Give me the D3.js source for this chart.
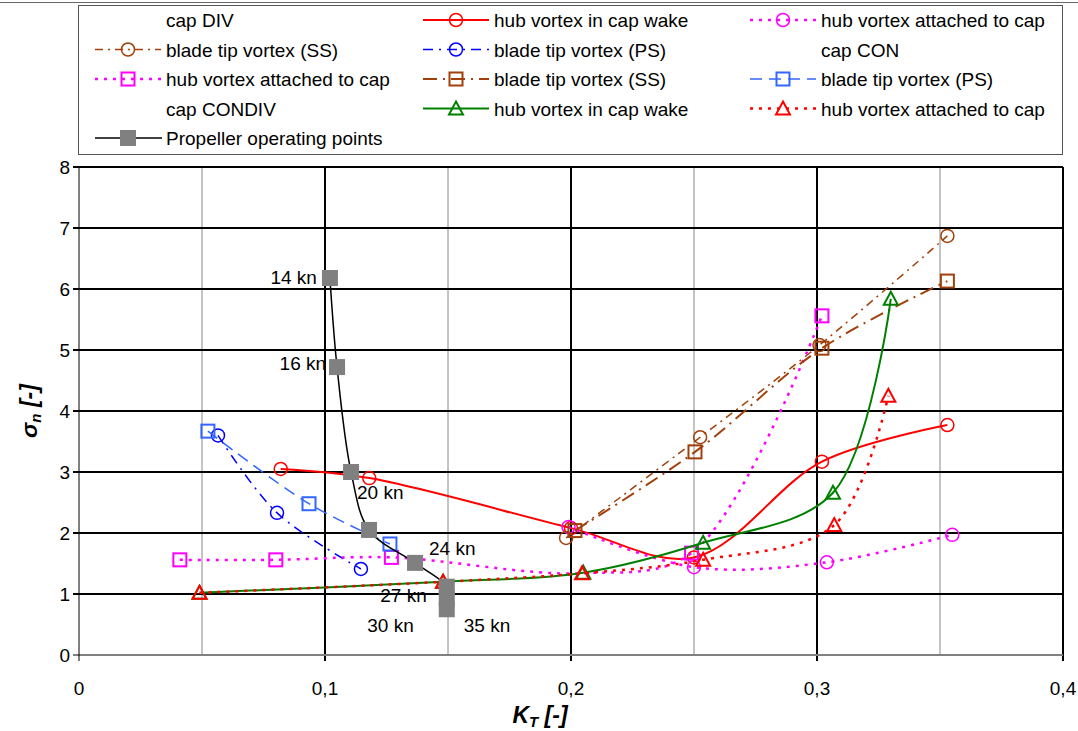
<!DOCTYPE html>
<html>
<head>
<meta charset="utf-8">
<script src="https://cdn.jsdelivr.net/npm/d3@7"></script>
<style>
  body { margin: 0; background: #fff; }
  svg { font-family: "Liberation Sans", Arial, sans-serif; }
</style>
</head>
<body>
<div id="chart"></div>
<script>
// Data (KT, sigma_n)
const divHubWake = [[0.082, 3.05], [0.118, 2.9], [0.2, 2.08], [0.25, 1.6], [0.302, 3.17], [0.353, 3.77]];
const divHubAttached = [[0.199, 2.1], [0.25, 1.44], [0.304, 1.52], [0.355, 1.97]];
const divTipSS = [[0.198, 1.92], [0.2525, 3.57], [0.301, 5.08], [0.353, 6.87]];
const divTipPS = [[0.0565, 3.6], [0.0805, 2.33], [0.1146, 1.41]];
const conHubAttached = [[0.041, 1.56], [0.080, 1.56], [0.127, 1.6], [0.2045, 1.34], [0.249, 1.67], [0.302, 5.56]];
const conTipSS = [[0.2016, 2.04], [0.2504, 3.33], [0.302, 5.03], [0.353, 6.13]];
const conTipPS = [[0.0524, 3.67], [0.0935, 2.48], [0.1264, 1.82]];
const condivHubWake = [[0.049, 1.02], [0.148, 1.2], [0.205, 1.35], [0.2537, 1.84], [0.3065, 2.66], [0.33, 5.84]];
const condivHubAttached = [[0.049, 1.02], [0.148, 1.2], [0.2045, 1.34], [0.2537, 1.56], [0.307, 2.13], [0.329, 4.25]];
const propellerPoints = [[0.102, 6.18], [0.1049, 4.72], [0.1106, 3.0], [0.1179, 2.05], [0.1366, 1.51], [0.1495, 1.12], [0.1495, 0.93], [0.1495, 0.75]];
const speedLabels = ['14 kn', '16 kn', '', '20 kn', '24 kn', '27 kn', '30 kn', '35 kn'];

// points whose marker is covered in the picture (index per series)
const conHubAttachedHidden = [3];

const xTicks = [0, 0.1, 0.2, 0.3, 0.4];
const xMinor = [0.05, 0.15, 0.25, 0.35];
const yTicks = [0, 1, 2, 3, 4, 5, 6, 7, 8];

const width = 1078;
const height = 731;

const svg = d3.select('#chart')
  .append('svg')
  .attr('width', width)
  .attr('height', height);

const x = d3.scaleLinear().domain([0, 0.4]).range([79, 1063]);
const y = d3.scaleLinear().domain([0, 8]).range([655, 167]);

// outer frame line
svg.append('line')
  .attr('x1', 0).attr('x2', width).attr('y1', 2.5).attr('y2', 2.5)
  .attr('stroke', '#666').attr('stroke-width', 1);

// grid
const grid = svg.append('g');
grid.selectAll('.minor')
  .data(xMinor)
  .enter()
  .append('line')
  .attr('x1', (d) => x(d)).attr('x2', (d) => x(d))
  .attr('y1', y(8)).attr('y2', y(0))
  .attr('stroke', '#888').attr('stroke-width', 1);

grid.selectAll('.vmajor')
  .data(xTicks.slice(1))
  .enter()
  .append('line')
  .attr('x1', (d) => x(d)).attr('x2', (d) => x(d))
  .attr('y1', y(8)).attr('y2', y(0) + 6)
  .attr('stroke', '#000').attr('stroke-width', 2);

grid.selectAll('.hmajor')
  .data(yTicks.slice(1))
  .enter()
  .append('line')
  .attr('x1', x(0) - 6).attr('x2', x(0.4))
  .attr('y1', (d) => y(d)).attr('y2', (d) => y(d))
  .attr('stroke', '#000').attr('stroke-width', 2);

// zero line and left axis
svg.append('line')
  .attr('x1', x(0) - 6).attr('x2', x(0.4))
  .attr('y1', y(0)).attr('y2', y(0))
  .attr('stroke', '#808080').attr('stroke-width', 2);
svg.append('line')
  .attr('x1', x(0)).attr('x2', x(0))
  .attr('y1', y(8)).attr('y2', y(0) + 6)
  .attr('stroke', '#000').attr('stroke-width', 1);

// tick labels
svg.selectAll('.ylab')
  .data(yTicks)
  .enter()
  .append('text')
  .attr('x', 70)
  .attr('y', (d) => y(d) + 7)
  .attr('text-anchor', 'end')
  .attr('font-size', 19)
  .text((d) => d);

svg.selectAll('.xlab')
  .data(xTicks)
  .enter()
  .append('text')
  .attr('x', (d) => x(d))
  .attr('y', 695)
  .attr('text-anchor', 'middle')
  .attr('font-size', 19)
  .text((d) => String(d).replace('.', ','));

// axis titles
const xt = svg.append('text')
  .attr('x', 540).attr('y', 723)
  .attr('text-anchor', 'middle')
  .attr('font-size', 23)
  .attr('font-weight', 'bold')
  .attr('font-style', 'italic');
xt.append('tspan').text('K');
xt.append('tspan').attr('font-size', 15).attr('dy', 4).text('T');
xt.append('tspan').attr('dy', -4).text(' [-]');

const yt = svg.append('text')
  .attr('transform', 'translate(37,411) rotate(-90)')
  .attr('text-anchor', 'middle')
  .attr('font-size', 23)
  .attr('font-weight', 'bold')
  .attr('font-style', 'italic');
yt.append('tspan').text('σ');
yt.append('tspan').attr('font-size', 15).attr('dy', 4).text('n');
yt.append('tspan').attr('dy', -4).text(' [-]');

// series styles
const series = [
  { data: divHubWake, color: '#ff0000', width: 2, dash: null, marker: 'circle' },
  { data: divHubAttached, color: '#ff00ff', width: 2.5, dash: '3,6', marker: 'circle' },
  { data: divTipSS, color: '#a0400a', width: 1.5, dash: '8,5,2,5', marker: 'circle' },
  { data: divTipPS, color: '#0000ff', width: 1.5, dash: '10,6,2,6', marker: 'circle' },
  { data: conHubAttached, color: '#ff00ff', width: 2.5, dash: '3,6', marker: 'square', hidden: conHubAttachedHidden },
  { data: conTipSS, color: '#a0400a', width: 2, dash: '14,6,2,6', marker: 'square' },
  { data: conTipPS, color: '#3366ff', width: 1.5, dash: '12,7', marker: 'square' },
  { data: condivHubWake, color: '#008000', width: 2, dash: null, marker: 'triangle' },
  { data: condivHubAttached, color: '#ff0000', width: 2.5, dash: '3,6', marker: 'triangle' }
];

const line = d3.line()
  .x((d) => x(d[0]))
  .y((d) => y(d[1]))
  .curve(d3.curveCatmullRom.alpha(0.5));

function drawMarker(g, type, cx, cy, color) {
  if (type === 'circle') {
    g.append('circle').attr('cx', cx).attr('cy', cy).attr('r', 6.5)
      .attr('fill', 'none').attr('stroke', color).attr('stroke-width', 1.5);
  } else if (type === 'square') {
    g.append('rect').attr('x', cx - 6.5).attr('y', cy - 6.5)
      .attr('width', 13).attr('height', 13)
      .attr('fill', 'none').attr('stroke', color).attr('stroke-width', 2);
  } else if (type === 'triangle') {
    g.append('path')
      .attr('d', `M${cx},${cy - 7}L${cx + 7},${cy + 6}L${cx - 7},${cy + 6}Z`)
      .attr('fill', 'none').attr('stroke', color).attr('stroke-width', 2);
  } else if (type === 'filled') {
    g.append('rect').attr('x', cx - 8).attr('y', cy - 8)
      .attr('width', 16).attr('height', 16)
      .attr('fill', '#808080');
  }
}

series.forEach((s) => {
  const g = svg.append('g');
  g.append('path')
    .attr('d', line(s.data))
    .attr('fill', 'none')
    .attr('stroke', s.color)
    .attr('stroke-width', s.width)
    .attr('stroke-dasharray', s.dash);
  s.data.forEach((d, i) => {
    if (s.hidden && s.hidden.includes(i)) return;
    drawMarker(g, s.marker, x(d[0]), y(d[1]), s.color);
  });
});

// propeller operating points
const pg = svg.append('g');
pg.append('path')
  .attr('d', line(propellerPoints))
  .attr('fill', 'none')
  .attr('stroke', '#000')
  .attr('stroke-width', 1.5);
propellerPoints.forEach((d) => drawMarker(pg, 'filled', x(d[0]), y(d[1])));

// speed labels, placed as in the picture
const labelPlace = [
  { dx: -13, dy: 6, anchor: 'end' },
  { dx: -11, dy: 3, anchor: 'end' },
  { dx: 0, dy: 0, anchor: 'start' },
  { dx: -12, dy: -31, anchor: 'start' },
  { dx: 14, dy: -8, anchor: 'start' },
  { dx: -20, dy: 15, anchor: 'end' },
  { dx: -33, dy: 34, anchor: 'end' },
  { dx: 17, dy: 23, anchor: 'start' }
];
propellerPoints.forEach((d, i) => {
  if (!speedLabels[i]) return;
  svg.append('text')
    .attr('x', x(d[0]) + labelPlace[i].dx)
    .attr('y', y(d[1]) + labelPlace[i].dy)
    .attr('text-anchor', labelPlace[i].anchor)
    .attr('font-size', 19)
    .text(speedLabels[i]);
});

// legend
const legendItems = [
  { label: 'cap DIV', s: null },
  { label: 'hub vortex in cap wake', s: series[0] },
  { label: 'hub vortex attached to cap', s: series[1] },
  { label: 'blade tip vortex (SS)', s: series[2] },
  { label: 'blade tip vortex (PS)', s: series[3] },
  { label: 'cap CON', s: null },
  { label: 'hub vortex attached to cap', s: series[4] },
  { label: 'blade tip vortex (SS)', s: series[5] },
  { label: 'blade tip vortex (PS)', s: series[6] },
  { label: 'cap CONDIV', s: null },
  { label: 'hub vortex in cap wake', s: series[7] },
  { label: 'hub vortex attached to cap', s: series[8] },
  { label: 'Propeller operating points', s: 'prop' }
];

const legend = svg.append('g');
legend.append('rect')
  .attr('x', 78.5).attr('y', 5.5)
  .attr('width', 984).attr('height', 149)
  .attr('fill', '#fff')
  .attr('stroke', '#555').attr('stroke-width', 1);

const colX = [95, 423, 750];
const rowY = [20, 49.5, 79, 108.5, 138];
legendItems.forEach((item, i) => {
  const cx = colX[i % 3];
  const cy = rowY[Math.floor(i / 3)];
  const g = legend.append('g');
  if (item.s === 'prop') {
    g.append('line').attr('x1', cx).attr('x2', cx + 67).attr('y1', cy).attr('y2', cy)
      .attr('stroke', '#000').attr('stroke-width', 1.5);
    drawMarker(g, 'filled', cx + 33, cy);
  } else if (item.s) {
    g.append('line').attr('x1', cx).attr('x2', cx + 66).attr('y1', cy).attr('y2', cy)
      .attr('stroke', item.s.color).attr('stroke-width', item.s.width)
      .attr('stroke-dasharray', item.s.dash);
    drawMarker(g, item.s.marker, cx + 33, cy, item.s.color);
  }
  g.append('text')
    .attr('x', cx + 71)
    .attr('y', cy + 7)
    .attr('font-size', 19)
    .text(item.label);
});
</script>
</body>
</html>
